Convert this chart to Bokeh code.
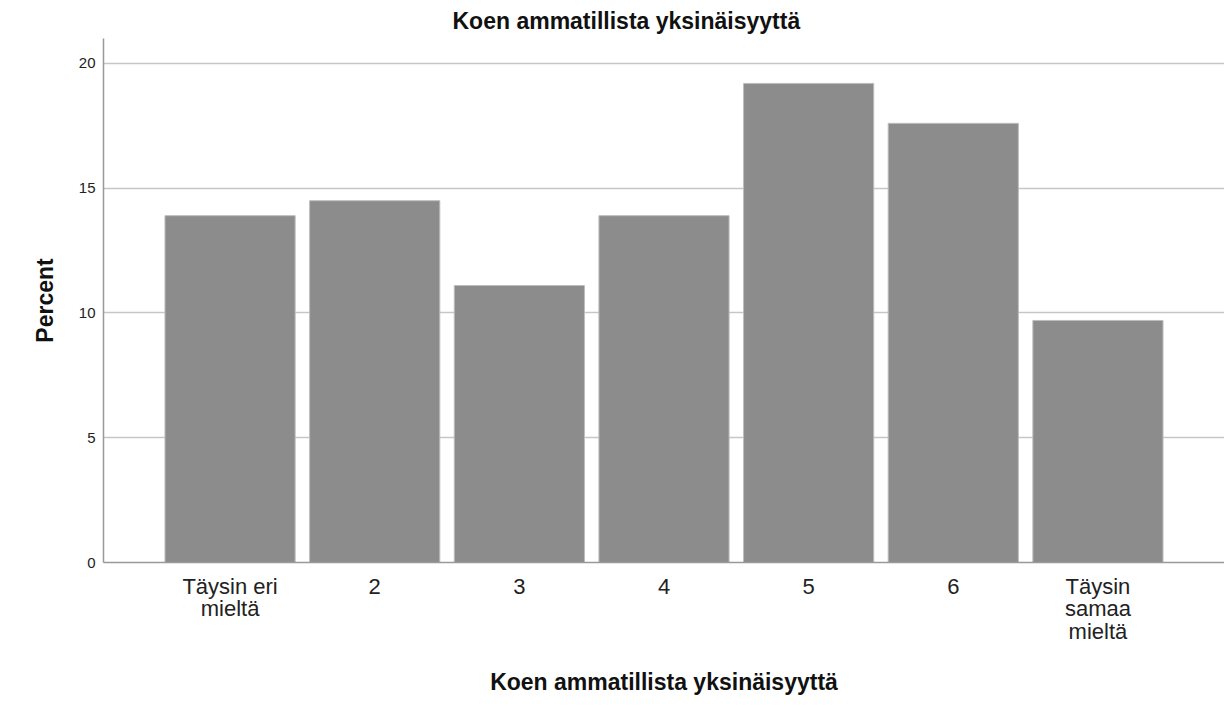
from bokeh.plotting import figure
from bokeh.models import FactorRange, Title
from bokeh.embed import file_html
from bokeh.resources import INLINE

categories = ["Täysin eri\nmieltä", "2", "3", "4", "5", "6", "Täysin\nsamaa\nmieltä"]
percent = [13.9, 14.5, 11.1, 13.9, 19.2, 17.6, 9.7]
y_ticks = [0, 5, 10, 15, 20]
title_text = "Koen ammatillista yksinäisyyttä"
x_label = "Koen ammatillista yksinäisyyttä"
y_label = "Percent"

FONT = "Liberation Sans"

p = figure(
    width=1224, height=708,
    x_range=FactorRange(factors=categories, range_padding=0.375, range_padding_units="absolute"),
    y_range=(0, 21),
    output_backend="svg", toolbar_location=None,
    min_border_left=103, min_border_right=0, min_border_top=37, min_border_bottom=146,
)
p.outline_line_color = None
p.background_fill_color = "white"
p.border_fill_color = "white"

t = Title(text=title_text, align="left", offset=349, text_font=FONT,
          text_font_size="23px", text_font_style="bold", text_color="#111111", standoff=10)
p.add_layout(t, "above")

p.vbar(x=categories, top=percent, width=0.9, fill_color="#8c8c8c",
       line_color="#bdbdbd", line_width=1)

p.xgrid.grid_line_color = None
p.ygrid.grid_line_color = "#c6c6c6"
p.ygrid.grid_line_width = 1.3
p.yaxis.ticker = y_ticks

for ax in (p.xaxis[0], p.yaxis[0]):
    ax.axis_line_color = "#999999"
    ax.axis_line_width = 1.5
    ax.major_tick_line_color = None
    ax.minor_tick_line_color = None
    ax.major_tick_out = 0
    ax.major_tick_in = 0
    ax.axis_label_text_font = FONT
    ax.axis_label_text_font_style = "bold"
    ax.axis_label_text_font_size = "23px"
    ax.axis_label_text_color = "#111111"
    ax.major_label_text_font = FONT
    ax.major_label_text_color = "#222222"

p.xaxis.axis_label = x_label
p.yaxis.axis_label = y_label
p.xaxis.major_label_text_font_size = "22px"
p.xaxis.major_label_text_line_height = 0.9
p.xaxis.major_label_standoff = 11
p.xaxis.axis_label_standoff = 22
p.yaxis.major_label_text_font_size = "15px"
p.yaxis.major_label_standoff = 8
p.yaxis.axis_label_standoff = 18

open("out.html", "w").write(file_html(p, INLINE))
